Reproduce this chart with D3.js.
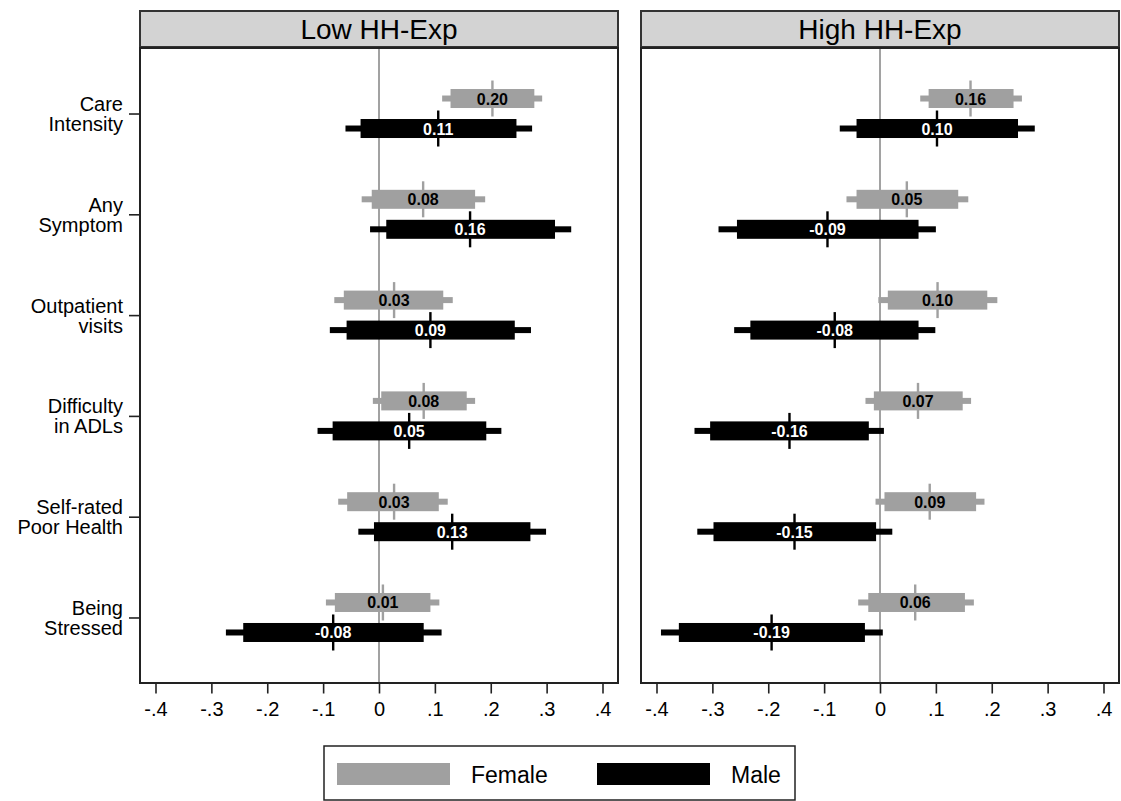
<!DOCTYPE html>
<html>
<head>
<meta charset="utf-8">
<script src="https://cdn.jsdelivr.net/npm/d3@7"></script>
<style>
  body { margin: 0; background: #fff; }
  svg { font-family: "Liberation Sans", Arial, sans-serif; }
</style>
</head>
<body>
<svg id="chart" width="1121" height="801"></svg>
<script>
// outcomes (two-line labels)
const categories = [
  ["Care", "Intensity"],
  ["Any", "Symptom"],
  ["Outpatient", "visits"],
  ["Difficulty", "in ADLs"],
  ["Self-rated", "Poor Health"],
  ["Being", "Stressed"]
];
const panels = ["Low HH-Exp", "High HH-Exp"];
const sexes = ["Female", "Male"];

// rows: est, lo90, hi90, lo95, hi95
const lowFemale = [
  [0.203, 0.128, 0.278, 0.113, 0.292],
  [0.079, -0.013, 0.172, -0.031, 0.190],
  [0.027, -0.063, 0.115, -0.080, 0.132],
  [0.080, 0.004, 0.157, -0.011, 0.172],
  [0.027, -0.057, 0.107, -0.073, 0.123],
  [0.007, -0.079, 0.092, -0.095, 0.108]
];
const lowMale = [
  [0.106, -0.033, 0.246, -0.060, 0.274],
  [0.163, 0.013, 0.315, -0.016, 0.344],
  [0.092, -0.058, 0.243, -0.088, 0.272],
  [0.054, -0.083, 0.192, -0.110, 0.219],
  [0.131, -0.009, 0.271, -0.037, 0.299],
  [-0.082, -0.243, 0.080, -0.274, 0.112]
];
const highFemale = [
  [0.162, 0.087, 0.239, 0.072, 0.254],
  [0.048, -0.042, 0.140, -0.060, 0.158],
  [0.103, 0.014, 0.192, -0.003, 0.210],
  [0.068, -0.011, 0.148, -0.026, 0.163],
  [0.089, 0.008, 0.172, -0.008, 0.187],
  [0.063, -0.021, 0.152, -0.039, 0.168]
];
const highMale = [
  [0.102, -0.042, 0.247, -0.072, 0.277],
  [-0.094, -0.256, 0.069, -0.289, 0.100],
  [-0.081, -0.232, 0.069, -0.261, 0.099],
  [-0.162, -0.304, -0.020, -0.332, 0.007],
  [-0.153, -0.298, -0.007, -0.327, 0.022],
  [-0.194, -0.360, -0.027, -0.392, 0.005]
];

const xTicks = [-0.4, -0.3, -0.2, -0.1, 0, 0.1, 0.2, 0.3, 0.4];
const xTickLabels = ["-.4", "-.3", "-.2", "-.1", "0", ".1", ".2", ".3", ".4"];

const panelData = [[lowFemale, lowMale], [highFemale, highMale]];
const colors = { Female: "#a0a0a0", Male: "#000000" };
const labelColors = { Female: "#000", Male: "#fff" };

const fmt = d3.formatLocale({ decimal: ".", thousands: ",", grouping: [3], currency: ["", ""], minus: "-" }).format(".2f");

const svg = d3.select("#chart");

const plotTop = 48, plotBottom = 683;
const panelX = [[140, 618], [641, 1119]];
const inset = 15.5;

const y = d3.scalePoint()
  .domain(d3.range(categories.length))
  .range([plotTop, plotBottom])
  .padding(0.65);
const offset = { Female: -15, Male: 15 };

panels.forEach(function (title, p) {
  const x0 = panelX[p][0], x1 = panelX[p][1];
  const x = d3.scaleLinear().domain([-0.4, 0.4]).range([x0 + inset, x1 - inset]);
  const g = svg.append("g");

  // header strip
  g.append("rect")
    .attr("x", x0).attr("y", 11).attr("width", x1 - x0).attr("height", 36)
    .attr("fill", "#d3d3d3").attr("stroke", "#333").attr("stroke-width", 2);
  g.append("text")
    .attr("x", (x0 + x1) / 2).attr("y", 29)
    .attr("text-anchor", "middle").attr("dominant-baseline", "central")
    .attr("font-size", 28).attr("fill", "#000")
    .text(title);

  // zero line
  g.append("line")
    .attr("x1", x(0)).attr("x2", x(0)).attr("y1", plotTop).attr("y2", plotBottom)
    .attr("stroke", "#707070").attr("stroke-width", 1.3);

  sexes.forEach(function (sex, s) {
    const rows = panelData[p][s];
    const gs = g.append("g").selectAll("g").data(rows).join("g")
      .attr("transform", (d, i) => "translate(0," + (y(i) + offset[sex]) + ")");

    gs.append("rect")
      .attr("x", d => x(d[3])).attr("width", d => x(d[4]) - x(d[3]))
      .attr("y", -3).attr("height", 6)
      .attr("fill", colors[sex]);
    gs.append("rect")
      .attr("x", d => x(d[1])).attr("width", d => x(d[2]) - x(d[1]))
      .attr("y", -9.5).attr("height", 19)
      .attr("fill", colors[sex]);
    gs.append("rect")
      .attr("x", d => x(d[0]) - 1.2).attr("width", 2.4)
      .attr("y", -18).attr("height", 36)
      .attr("fill", colors[sex]);
    gs.append("text")
      .attr("x", d => x(d[0])).attr("y", 0.5)
      .attr("text-anchor", "middle").attr("dominant-baseline", "central")
      .attr("font-size", 16).attr("font-weight", "bold")
      .attr("fill", labelColors[sex])
      .text(d => fmt(d[0]));
  });

  // frame
  g.append("rect")
    .attr("x", x0).attr("y", plotTop).attr("width", x1 - x0).attr("height", plotBottom - plotTop)
    .attr("fill", "none").attr("stroke", "#222").attr("stroke-width", 2);

  // x axis
  const xAxis = d3.axisBottom(x)
    .tickValues(xTicks)
    .tickFormat((d, i) => xTickLabels[i])
    .tickSize(10).tickPadding(8);
  const ax = g.append("g")
    .attr("transform", "translate(0," + (plotBottom + 0.5) + ")")
    .call(xAxis);
  ax.select(".domain").remove();
  ax.selectAll(".tick line").attr("stroke", "#222").attr("stroke-width", 1.6);
  ax.selectAll(".tick text")
    .attr("font-size", 20).attr("fill", "#000")
    .attr("font-family", "'Liberation Sans', Arial, sans-serif");

  // y axis (left panel only)
  if (p === 0) {
    const yAxis = d3.axisLeft(y).tickSize(11).tickFormat("");
    const ay = g.append("g").attr("transform", "translate(" + x0 + ",0)").call(yAxis);
    ay.select(".domain").remove();
    ay.selectAll(".tick line").attr("stroke", "#222").attr("stroke-width", 1.6);
    ay.selectAll(".tick").append("text")
      .attr("x", -17).attr("text-anchor", "end")
      .attr("font-size", 20).attr("fill", "#000")
      .attr("font-family", "'Liberation Sans', Arial, sans-serif")
      .selectAll("tspan").data(i => categories[i]).join("tspan")
      .attr("x", -17)
      .attr("y", (d, j) => j === 0 ? -3 : 17)
      .text(d => d);
  }
});

// legend
const lg = svg.append("g");
lg.append("rect")
  .attr("x", 324).attr("y", 746).attr("width", 471).attr("height", 54)
  .attr("fill", "#fff").attr("stroke", "#222").attr("stroke-width", 1.5);
const legendX = [337, 597];
sexes.forEach(function (sex, i) {
  lg.append("rect")
    .attr("x", legendX[i]).attr("y", 763).attr("width", 113).attr("height", 22)
    .attr("fill", colors[sex]);
  lg.append("text")
    .attr("x", legendX[i] + 134).attr("y", 775)
    .attr("dominant-baseline", "central")
    .attr("font-size", 23).attr("fill", "#000")
    .text(sex);
});
</script>
</body>
</html>
